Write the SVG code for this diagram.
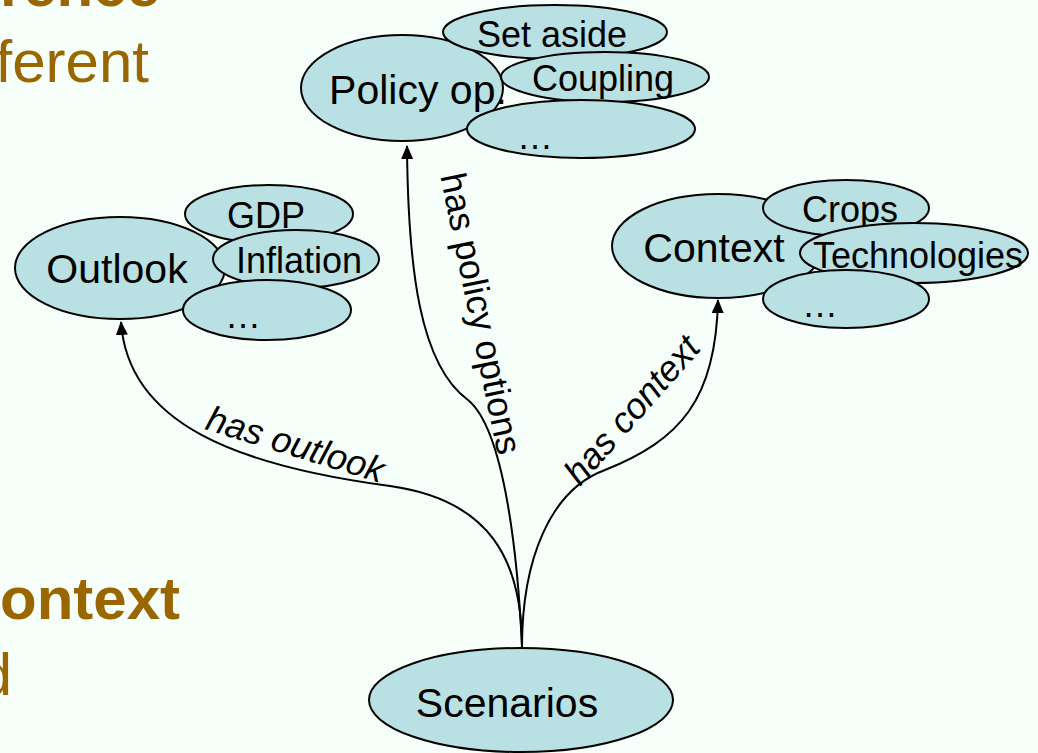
<svg xmlns="http://www.w3.org/2000/svg" width="1038" height="753" viewBox="0 0 1038 753">
<defs>
<style>
.n{fill:#B9E0E3;stroke:#000;stroke-width:2}
.t{font-family:"Liberation Sans",Arial,sans-serif;fill:#000;text-anchor:middle}
.m{font-size:41px}
.s{font-size:36px}
.e{font-family:"Liberation Sans",Arial,sans-serif;font-size:36px;fill:#000;text-anchor:middle}
.i{font-style:italic}
.bg{font-family:"Liberation Sans",Arial,sans-serif;fill:#996600;font-size:60px;text-anchor:end}
.c{fill:none;stroke:#000;stroke-width:2}
</style>
<marker id="ah" viewBox="0 0 14 12" refX="13" refY="6" markerWidth="14" markerHeight="12" markerUnits="userSpaceOnUse" orient="auto">
<path d="M0,0 L14,6 L0,12 Z" fill="#000"/>
</marker>
</defs>
<rect width="1038" height="753" fill="#F6FFFA"/>
<g id="background-text">
<text class="bg" x="160" y="6" font-weight="bold">rence</text>
<text class="bg" x="149" y="82">ferent</text>
<text class="bg" x="180" y="619" font-weight="bold">ontext</text>
<text class="bg" x="12" y="695">d</text>
</g>
<g id="connectors">
<path class="c" marker-end="url(#ah)" d="M522,647 C522,560 490,500 390,486 C240,466 128,425 121,322"/>
<path class="c" marker-end="url(#ah)" d="M522,647 C518,560 505,430 468,400 C420,365 408,270 407,146"/>
<path class="c" marker-end="url(#ah)" d="M522,647 C522,560 550,490 605,470 C680,440 716,400 718,300"/>
<text class="e i" transform="translate(292,456) rotate(17)">has outlook</text>
<text class="e" transform="translate(469,316) rotate(78.4)">has policy options</text>
<text class="e i" transform="translate(641,418) rotate(-48.5)">has context</text>
</g>
<g id="outlook">
<ellipse class="n" cx="120" cy="268" rx="105" ry="51"/>
<text class="t m" x="117" y="283">Outlook</text>
</g>
<g id="gdp">
<ellipse class="n" cx="269" cy="214" rx="84" ry="29"/>
<text class="t s" x="266" y="228">GDP</text>
</g>
<g id="inflation">
<ellipse class="n" cx="296" cy="259" rx="83" ry="29"/>
<text class="t s" x="299" y="273">Inflation</text>
</g>
<g id="outlook-more">
<ellipse class="n" cx="267" cy="310" rx="84" ry="30"/>
<text class="t s" x="243" y="328">…</text>
</g>
<g id="policy">
<ellipse class="n" cx="402" cy="88" rx="101" ry="53"/>
<text class="t m" x="418" y="104">Policy op.</text>
</g>
<g id="set-aside">
<ellipse class="n" cx="555" cy="32" rx="112" ry="27"/>
<text class="t s" x="552" y="47">Set aside</text>
</g>
<g id="coupling">
<ellipse class="n" cx="605" cy="77" rx="104" ry="25"/>
<text class="t s" x="603" y="91">Coupling</text>
</g>
<g id="policy-more">
<ellipse class="n" cx="581" cy="129" rx="114" ry="29"/>
<text class="t s" x="535" y="149">…</text>
</g>
<g id="context">
<ellipse class="n" cx="718" cy="246" rx="106" ry="52"/>
<text class="t m" x="714" y="262">Context</text>
</g>
<g id="crops">
<ellipse class="n" cx="846" cy="208" rx="83" ry="28"/>
<text class="t s" x="850" y="222">Crops</text>
</g>
<g id="technologies">
<ellipse class="n" cx="914" cy="253" rx="114" ry="30"/>
<text class="t s" x="918" y="268">Technologies</text>
</g>
<g id="context-more">
<ellipse class="n" cx="846" cy="299" rx="83" ry="29"/>
<text class="t s" x="820" y="317">…</text>
</g>
<g id="scenarios">
<ellipse class="n" cx="521" cy="700" rx="152" ry="52"/>
<text class="t m" x="507" y="717">Scenarios</text>
</g>
</svg>
